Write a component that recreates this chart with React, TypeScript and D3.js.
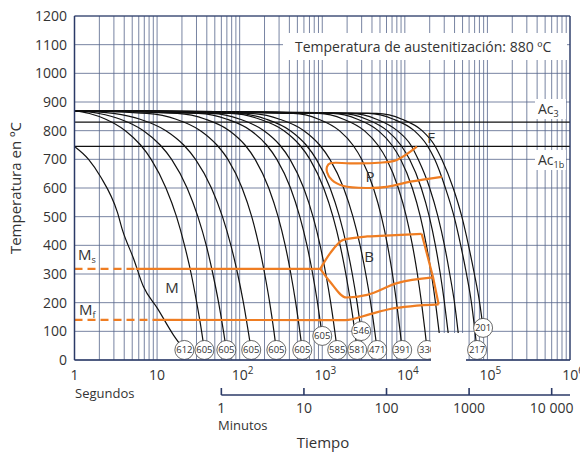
import * as d3 from "d3";

const startTemp = 870;
const ac3Temp = 830;
const ac1bTemp = 745;
const msTemp = 318;
const mfTemp = 140;

// temperature levels at which the cooling curves are sampled
const tempLevels = [860, 840, 800, 750, 700, 600, 500, 400, 300, 200, 100];

// fastest curve (starts at Ac1b)
const firstCurve: [number, number][] = [
  [1, 745], [1.48, 700], [2.06, 640], [3.31, 515], [3.81, 453], [5.17, 355],
  [6.83, 256], [10.1, 180], [15.8, 87], [21.4, 35],
];
const firstHardness = "612";

const hardness = ["605", "605", "605", "605", "605", "605", "585", "581", "546", "471", "391", "330", "", "", "", "217", "201"];
const endTimes = [37.4, 69, 138, 278, 573, 1000, 1518, 2651, 2962, 4625, 9290, 18620, 27500, 35300, 46700, 74900, 88600];
const endTemps = [35, 35, 35, 35, 35, 84, 35, 35, 101, 35, 35, 35, 35, 35, 35, 35, 112];
// seconds at which each curve reaches the tempLevels
const curveTimes: (number | null)[][] = [
  [1.52, 2.39, 4.13, 6.31, 8.48, 12.8, 17.2, 21.5, 25.9, 30.2, 34.6],
  [1.98, 3.6, 6.85, 10.9, 15.0, 23.1, 31.2, 39.4, 47.4, 55.6, 63.7],
  [2.96, 6.23, 12.8, 21.0, 29.2, 45.5, 61.9, 78.3, 94.6, 111, 127],
  [7.5, 17.0, 33.5, 53.0, 72.0, 107, 140, 171, 201, 231, 260],
  [17.6, 38.6, 75.0, 116, 154, 225, 292, 356, 417, 477, 535],
  [31.6, 70.2, 137, 212, 282, 413, 535, 653, 766, 876, 983],
  [45.1, 101, 197, 306, 407, 596, 773, 942, 1105, 1265, 1419],
  [78.1, 175, 344, 533, 710, 1040, 1349, 1646, 1930, 2208, 2478],
  [93, 210, 411, 638, 849, 1244, 1614, 1968, 2310, 2642, null],
  [135, 305, 600, 930, 1238, 1814, 2353, 2871, 3366, 3853, 4323],
  [448, 903, 1612, 2348, 3001, 4162, 5207, 6172, 7079, 7943, 8767],
  [898, 1809, 3229, 4706, 6015, 8342, 10435, 12370, 14189, 15920, 17572],
  [1326, 2671, 4769, 6950, 8883, 12320, 15411, 18268, 20955, 23512, 25952],
  [1702, 3428, 6121, 8920, 11402, 15814, 19782, 23450, 26898, 30181, 33313],
  [2251, 4535, 8098, 11801, 14500, 20000, 25200, 30200, 35000, 39928, 44070],
  [3610, 7273, 12988, 18500, 23000, 31000, 39500, 47500, 55800, 64039, 70683],
  [4580, 9232, 16200, 22800, 28000, 38500, 49000, 59000, 69500, 80500, null],
];

// transformation regions
const pearliteLine: [number, number][] = [
  [14000, 744], [8000, 698], [4760, 688], [2180, 686], [1250, 686], [1140, 674],
  [1140, 656], [1310, 628], [1810, 607], [3470, 600], [6060, 604], [11600, 622], [28000, 639],
];
const msSolidFrom = 5.5;
const mfSolidFrom = 10;
const bainiteSplit = 946;
const bainiteUpper: [number, number][] = [[946, 318], [1250, 373], [1795, 419], [3500, 431], [5030, 433], [16000, 440]];
const bainiteRight: [number, number][] = [[16000, 440], [22000, 288], [25650, 194]];
const bainiteLower: [number, number][] = [[946, 318], [1250, 272], [1950, 218], [3500, 227], [8070, 268], [22000, 288]];
const mfLine: [number, number][] = [[10, 140], [1900, 139], [3800, 160], [6640, 178], [25650, 194]];

const tempTicks = d3.range(0, 1201, 100);
const secExps = [0, 1, 2, 3, 4, 5, 6];
const minuteTicks = [1, 10, 100, 1000, 10000];
const minuteLabels = ["1", "10", "100", "1000", "10 000"];

const W = 580;
const H = 453;
const FONT = "'Open Sans', 'Noto Sans', sans-serif";
const GRID = "#56658a";
const NAVY = "#2b3a67";
const ORANGE = "#ef7d22";
const TEXT = "#333";

export default function App() {
  const x = d3.scaleLog().domain([1, 1e6]).range([74.5, 570]);
  const y = d3.scaleLinear().domain([0, 1200]).range([360, 16]);

  const line = d3
    .line<[number, number]>()
    .x((d) => x(d[0]))
    .y((d) => y(d[1]))
    .curve(d3.curveMonotoneX);
  const roundLine = d3
    .line<[number, number]>()
    .x((d) => x(d[0]))
    .y((d) => y(d[1]))
    .curve(d3.curveCatmullRom.alpha(0.5));
  const straight = d3
    .line<[number, number]>()
    .x((d) => x(d[0]))
    .y((d) => y(d[1]));

  const curves = curveTimes.map((times, i) => {
    const pts: [number, number][] = [[1, startTemp]];
    tempLevels.forEach((T, j) => {
      const t = times[j];
      if (t != null && T > endTemps[i] + 12) pts.push([t, T]);
    });
    pts.push([endTimes[i], endTemps[i]]);
    return { pts, label: hardness[i] };
  });
  const allCurves = [{ pts: firstCurve, label: firstHardness }, ...curves];

  const vGrid: number[] = [];
  for (let k = 0; k < 6; k++) for (let m = 1; m <= 9; m++) vGrid.push(m * 10 ** k);
  vGrid.push(1e6);

  const [x0, x1] = x.range();

  return (
    <svg
      width={W}
      height={H}
      style={{ position: "absolute", left: 0, top: 0, background: "#fff" }}
      fontFamily={FONT}
    >
      {/* grid */}
      <g stroke={GRID} strokeWidth={0.8}>
        {vGrid.map((t) => (
          <line key={"v" + t} x1={x(t)} x2={x(t)} y1={y(1200)} y2={y(0)} />
        ))}
        {tempTicks.map((v) => (
          <line key={"h" + v} x1={x0} x2={x1} y1={y(v)} y2={y(v)} />
        ))}
      </g>

      {/* white boxes behind texts */}
      <rect x={283} y={33} width={284} height={27} fill="#fff" />
      <rect x={535} y={99} width={31} height={20} fill="#fff" />
      <rect x={535} y={150} width={31} height={20} fill="#fff" />

      {/* Ac lines */}
      <g stroke="#111" strokeWidth={1.3}>
        <line x1={x0} x2={x1} y1={y(ac3Temp)} y2={y(ac3Temp)} />
        <line x1={x0} x2={x1} y1={y(ac1bTemp)} y2={y(ac1bTemp)} />
      </g>

      {/* cooling curves */}
      <g fill="none" stroke="#111" strokeWidth={1.2}>
        {allCurves.map((c, i) => (
          <path key={i} d={line(c.pts) ?? ""} />
        ))}
      </g>

      {/* transformation regions */}
      <g fill="none" stroke={ORANGE} strokeWidth={2.2} strokeLinejoin="round">
        <path d={roundLine(pearliteLine) ?? ""} />
        <path d={straight([[1, msTemp], [msSolidFrom, msTemp]]) ?? ""} strokeDasharray="8,5" />
        <path d={straight([[msSolidFrom, msTemp], [bainiteSplit, msTemp]]) ?? ""} />
        <path d={straight([[1, mfTemp], [mfSolidFrom, mfTemp]]) ?? ""} strokeDasharray="8,5" />
        <path d={line(mfLine) ?? ""} />
        <path d={line(bainiteUpper) ?? ""} />
        <path d={straight(bainiteRight) ?? ""} />
        <path d={line(bainiteLower) ?? ""} />
      </g>

      {/* hardness labels */}
      <g>
        {allCurves
          .filter((c) => c.label)
          .map((c, i) => {
            const [t, T] = c.pts[c.pts.length - 1];
            return (
              <g key={i} transform={`translate(${x(t)},${y(T)})`}>
                <circle r={9.5} fill="#fff" stroke="#444" strokeWidth={0.8} />
                <text textAnchor="middle" dy="0.35em" fontSize={9.5} fill={TEXT}>
                  {c.label}
                </text>
              </g>
            );
          })}
      </g>
      <rect x={431} y={333} width={35} height={29} fill="#fff" />

      {/* frame */}
      <g fill="none" stroke={NAVY}>
        <line x1={x0} x2={x0} y1={y(1200)} y2={y(0)} strokeWidth={1.5} />
        <line x1={x1} x2={x1} y1={y(1200)} y2={y(0)} strokeWidth={1.2} />
        <line x1={x0} x2={431} y1={y(0)} y2={y(0)} strokeWidth={1.5} />
        <line x1={466} x2={x1} y1={y(0)} y2={y(0)} strokeWidth={1.5} />
        <line x1={x0} x2={x1} y1={y(1200)} y2={y(1200)} strokeWidth={1} />
      </g>

      {/* y ticks */}
      <g fontSize={14} fill={TEXT} textAnchor="end">
        {tempTicks.map((v) => (
          <text key={v} x={67} y={y(v) + 5}>
            {v}
          </text>
        ))}
      </g>
      <text
        transform="translate(21,188) rotate(-90)"
        textAnchor="middle"
        fontSize={15}
        fill={TEXT}
      >
        Temperatura en ºC
      </text>

      {/* seconds axis labels */}
      <g fontSize={14} fill={TEXT} textAnchor="middle">
        {secExps.map((e) => (
          <text key={e} x={x(10 ** e) + (e > 1 ? 3 : 0)} y={380}>
            {e === 0 ? "1" : "10"}
            {e > 1 && (
              <tspan fontSize={10} dy={-6}>
                {e}
              </tspan>
            )}
          </text>
        ))}
      </g>
      <text x={75} y={398} fontSize={13} fill={TEXT}>
        Segundos
      </text>

      {/* minutes axis */}
      <g stroke={NAVY} strokeWidth={1.6}>
        <line x1={x(60)} x2={x1} y1={395} y2={395} />
        {minuteTicks.map((m) => (
          <line key={m} x1={x(m * 60)} x2={x(m * 60)} y1={388} y2={395} />
        ))}
      </g>
      <g fontSize={14} fill={TEXT} textAnchor="middle">
        {minuteTicks.map((m, i) => (
          <text key={m} x={x(m * 60)} y={413}>
            {minuteLabels[i]}
          </text>
        ))}
      </g>
      <text x={218} y={430} fontSize={13} fill={TEXT}>
        Minutos
      </text>
      <text x={323} y={448} fontSize={15} fill={TEXT} textAnchor="middle">
        Tiempo
      </text>

      {/* annotations */}
      <g fill={TEXT}>
        <text x={295} y={52} fontSize={14}>
          Temperatura de austenitización: 880 ºC
        </text>
        <text x={538} y={114} fontSize={14}>
          Ac<tspan fontSize={9} dy={3}>3</tspan>
        </text>
        <text x={538} y={165} fontSize={14}>
          Ac<tspan fontSize={9} dy={3}>1b</tspan>
        </text>
        <text x={431} y={143} fontSize={15} textAnchor="middle">F</text>
        <text x={370} y={182} fontSize={15} textAnchor="middle">P</text>
        <text x={369} y={262} fontSize={15} textAnchor="middle">B</text>
        <text x={172} y={293} fontSize={15} textAnchor="middle">M</text>
        <text x={78} y={260} fontSize={15}>
          M<tspan fontSize={9} dy={3}>s</tspan>
        </text>
        <text x={79} y={315} fontSize={15}>
          M<tspan fontSize={9} dy={3}>f</tspan>
        </text>
      </g>
    </svg>
  );
}
